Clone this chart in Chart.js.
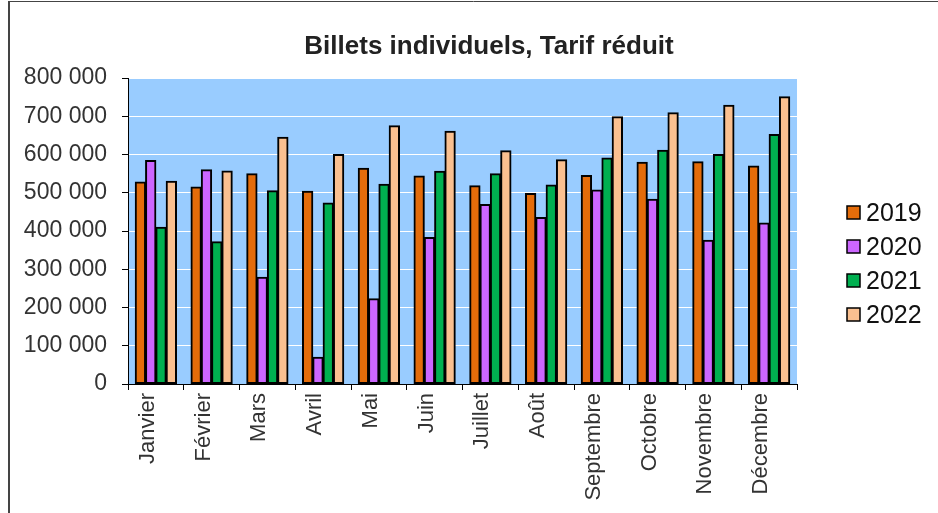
<!DOCTYPE html>
<html>
<head>
<meta charset="utf-8">
<script src="https://cdn.jsdelivr.net/npm/chart.js@4/dist/chart.umd.min.js"></script>
<style>
  html, body { margin: 0; padding: 0; background: #fff; }
  #wrap { position: relative; width: 938px; height: 513px; }
</style>
</head>
<body>
<div id="wrap"><canvas id="billets" width="938" height="513"></canvas></div>
<script>
// data
const months = ["Janvier", "Février", "Mars", "Avril", "Mai", "Juin", "Juillet", "Août", "Septembre", "Octobre", "Novembre", "Décembre"];
const years = ["2019", "2020", "2021", "2022"];
const v2019 = [528000, 515000, 550000, 504000, 564000, 544000, 518000, 498000, 545000, 580000, 581000, 570000];
const v2020 = [584000, 560000, 279000, 70000, 223000, 383000, 469000, 435000, 507000, 483000, 376000, 421000];
const v2021 = [410000, 372000, 505000, 473000, 522000, 556000, 550000, 520000, 591000, 611000, 600000, 652000];
const v2022 = [530000, 557000, 645000, 600000, 675000, 661000, 610000, 586000, 699000, 709000, 729000, 751000];
const yTicks = [0, 100000, 200000, 300000, 400000, 500000, 600000, 700000, 800000];
const colors = ["#E46C0A", "#CC66FF", "#00B050", "#FAC090"];
const series = [v2019, v2020, v2021, v2022];

const FONT = "'Liberation Sans', Arial, sans-serif";

function fmt(n) {
  return String(n).replace(/\B(?=(\d{3})+(?!\d))/g, " ");
}

// paints plot background, frame, title and legend
const decor = {
  id: "decor",
  beforeDraw(chart) {
    const { ctx, chartArea } = chart;
    ctx.save();
    ctx.fillStyle = "#99CCFF";
    ctx.fillRect(chartArea.left, chartArea.top, chartArea.right - chartArea.left, chartArea.bottom - chartArea.top);
    ctx.restore();
  },
  afterDraw(chart) {
    const ctx = chart.ctx;
    ctx.save();
    // outer frame
    ctx.strokeStyle = "#444";
    ctx.lineWidth = 2;
    ctx.beginPath();
    ctx.moveTo(9, 513);
    ctx.lineTo(9, 1);
    ctx.stroke();
    ctx.lineWidth = 1;
    ctx.beginPath();
    ctx.moveTo(9, 1.5);
    ctx.lineTo(938, 1.5);
    ctx.stroke();

    // title
    ctx.fillStyle = "#222";
    ctx.font = "bold 26px " + FONT;
    ctx.textAlign = "center";
    ctx.textBaseline = "middle";
    ctx.fillText("Billets individuels, Tarif réduit", 489, 47);

    // legend
    ctx.font = "25px " + FONT;
    ctx.textAlign = "left";
    chart.data.datasets.forEach((ds, i) => {
      const y = 213 + i * 34;
      ctx.fillStyle = ds.backgroundColor;
      ctx.fillRect(847, y - 7, 13, 13);
      ctx.strokeStyle = "#000";
      ctx.lineWidth = 1.5;
      ctx.strokeRect(847, y - 7, 13, 13);
      ctx.fillStyle = "#111";
      ctx.fillText(ds.label, 866, y + 1);
    });
    ctx.restore();
  }
};

new Chart(document.getElementById("billets"), {
  type: "bar",
  data: {
    labels: months,
    datasets: years.map((y, i) => ({
      label: y,
      data: series[i],
      backgroundColor: colors[i],
      borderColor: "#000",
      borderWidth: 2,
      borderSkipped: false,
      inflateAmount: 0.5,
      barPercentage: 1,
      categoryPercentage: 0.74
    }))
  },
  options: {
    responsive: false,
    animation: false,
    layout: { padding: { left: 0, top: 78, right: 141, bottom: 0 } },
    plugins: {
      legend: { display: false },
      title: { display: false },
      tooltip: { enabled: false }
    },
    scales: {
      x: {
        afterFit(scale) { scale.height = 129; },
        grid: { drawOnChartArea: false, tickLength: 6, tickColor: "#000", offset: true },
        border: { color: "#000", width: 1 },
        ticks: {
          color: "#333",
          font: { family: FONT, size: 22 },
          minRotation: 90,
          maxRotation: 90,
          labelOffset: -8,
          autoSkip: false
        }
      },
      y: {
        min: 0,
        max: 800000,
        afterFit(scale) { scale.width = 128; },
        afterBuildTicks(scale) { scale.ticks = yTicks.map(v => ({ value: v })); },
        grid: { color: "#fff", lineWidth: 1, tickLength: 6, tickColor: "#000" },
        border: { color: "#000", width: 1 },
        ticks: {
          color: "#333",
          font: { family: FONT, size: 23 },
          padding: 15,
          callback: v => fmt(v)
        }
      }
    }
  },
  plugins: [decor]
});
</script>
</body>
</html>
